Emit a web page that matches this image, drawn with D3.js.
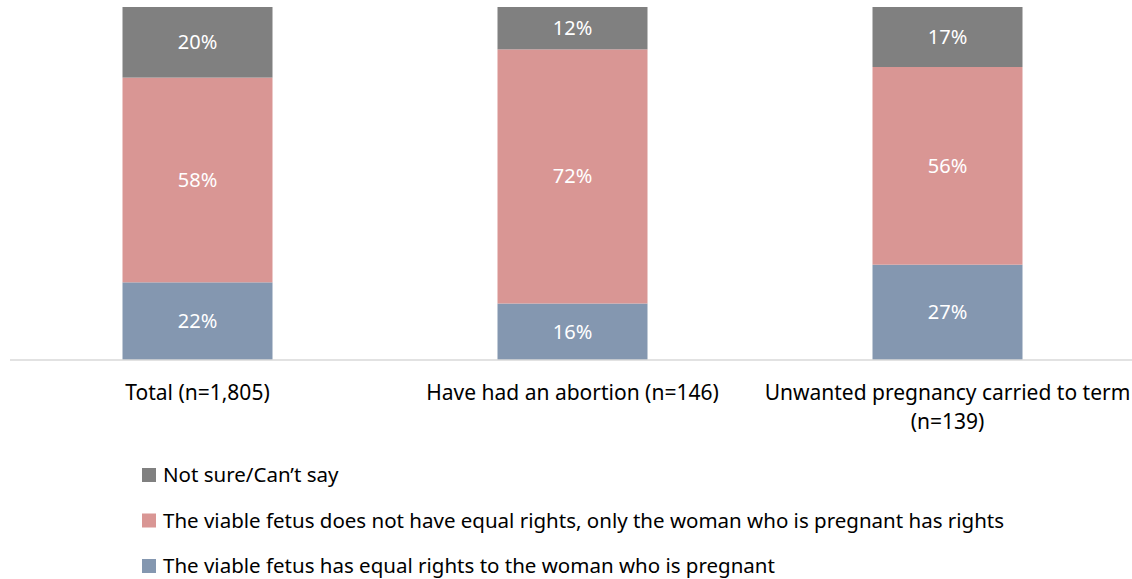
<!DOCTYPE html>
<html>
<head>
<meta charset="utf-8">
<script src="https://cdn.jsdelivr.net/npm/d3@7"></script>
<style>
  body { margin: 0; background: #fff; }
  text { font-family: "Noto Sans", "Open Sans", sans-serif; }
</style>
</head>
<body>
<div id="chart"></div>
<script>
// chart data
var categories = ['Total (n=1,805)', 'Have had an abortion (n=146)', 'Unwanted pregnancy carried to term (n=139)'];
var equalRights = [22, 16, 27];
var womanOnly = [58, 72, 56];
var notSure = [20, 12, 17];
var seriesNames = [
  'The viable fetus has equal rights to the woman who is pregnant',
  'The viable fetus does not have equal rights, only the woman who is pregnant has rights',
  'Not sure/Can\u2019t say'
];
var colors = ['#8497b0', '#d99694', '#808080'];

var width = 1132, height = 579;
var svg = d3.select('#chart').append('svg')
  .attr('width', width)
  .attr('height', height);

var rows = categories.map(function (c, i) {
  return { cat: c, s0: equalRights[i], s1: womanOnly[i], s2: notSure[i] };
});
var stacked = d3.stack().keys(['s0', 's1', 's2'])(rows);

var x = d3.scaleBand().domain(categories).range([10, 1135]).paddingInner(0.6).paddingOuter(0.3);
var y = d3.scaleLinear().domain([0, 100]).range([360, 7]);

// bars
var groups = svg.selectAll('g.series')
  .data(stacked)
  .enter().append('g')
  .attr('fill', function (d, i) { return colors[i]; });

groups.selectAll('rect')
  .data(function (d) { return d; })
  .enter().append('rect')
  .attr('x', function (d) { return x(d.data.cat); })
  .attr('width', x.bandwidth())
  .attr('y', function (d) { return y(d[1]); })
  .attr('height', function (d) { return y(d[0]) - y(d[1]); });

groups.selectAll('text')
  .data(function (d) { return d; })
  .enter().append('text')
  .attr('x', function (d) { return x(d.data.cat) + x.bandwidth() / 2; })
  .attr('y', function (d) { return (y(d[0]) + y(d[1])) / 2; })
  .attr('dy', '0.35em')
  .attr('text-anchor', 'middle')
  .attr('fill', '#fff')
  .style('font-size', '20px')
  .text(function (d) { return (d[1] - d[0]) + '%'; });

// baseline
svg.append('line')
  .attr('x1', 10).attr('x2', width)
  .attr('y1', y(0)).attr('y2', y(0))
  .attr('stroke', '#d9d9d9')
  .attr('stroke-width', 1.3);

// category labels (last one wraps)
var catLines = [[categories[0]], [categories[1]], ['Unwanted pregnancy carried to term', '(n=139)']];
categories.forEach(function (c, i) {
  var t = svg.append('text')
    .attr('x', x(c) + x.bandwidth() / 2)
    .attr('y', 400)
    .attr('text-anchor', 'middle')
    .attr('fill', '#000')
    .style('font-size', '21px');
  catLines[i].forEach(function (line, j) {
    t.append('tspan')
      .attr('x', x(c) + x.bandwidth() / 2)
      .attr('dy', j === 0 ? 0 : 29)
      .text(line);
  });
});

// legend, top to bottom: not sure, woman only, equal rights
var legendOrder = [2, 1, 0];
var legend = svg.selectAll('g.legend')
  .data(legendOrder)
  .enter().append('g')
  .attr('transform', function (d, i) { return 'translate(142,' + (475 + i * 45.5) + ')'; });

legend.append('rect')
  .attr('x', 0).attr('y', -7)
  .attr('width', 14).attr('height', 14)
  .attr('fill', function (d) { return colors[d]; });

legend.append('text')
  .attr('x', 21)
  .attr('dy', '0.35em')
  .attr('fill', '#000')
  .style('font-size', '20.5px')
  .text(function (d) { return seriesNames[d]; });
</script>
</body>
</html>
